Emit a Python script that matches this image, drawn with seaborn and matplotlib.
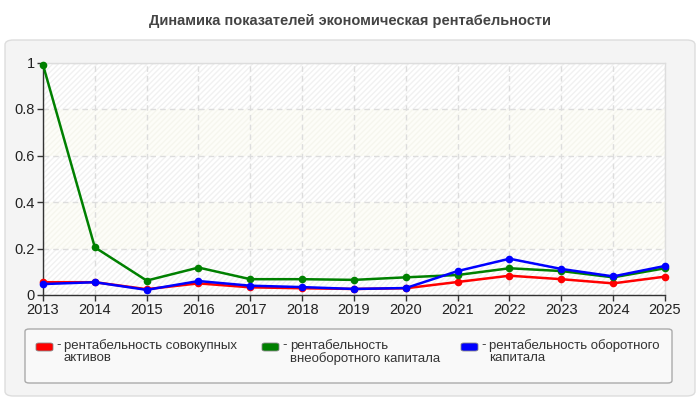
import numpy as np
import pandas as pd
import matplotlib
matplotlib.use("Agg")
import matplotlib.pyplot as plt
from matplotlib.patches import FancyBboxPatch
import seaborn as sns

# data
years = list(range(2013, 2026))
total_assets = [0.055, 0.055, 0.025, 0.050, 0.033, 0.029, 0.026, 0.029, 0.056, 0.083, 0.068, 0.050, 0.079]
fixed_capital = [0.990, 0.205, 0.062, 0.118, 0.068, 0.068, 0.065, 0.076, 0.086, 0.115, 0.103, 0.076, 0.115]
working_capital = [0.047, 0.055, 0.022, 0.060, 0.040, 0.034, 0.026, 0.030, 0.103, 0.156, 0.112, 0.080, 0.125]

series_names = ["рентабельность совокупных\nактивов",
                "рентабельность\nвнеоборотного капитала",
                "рентабельность оборотного\nкапитала"]
series_colors = ["#ff0000", "#008000", "#0000ff"]
yticks = [0, 0.2, 0.4, 0.6, 0.8, 1]
ytick_labels = ["0", "0.2", "0.4", "0.6", "0.8", "1"]
title = "Динамика показателей экономическая рентабельности"

df = pd.DataFrame({
    "year": years * 3,
    "value": total_assets + fixed_capital + working_capital,
    "series": [series_names[0]] * 13 + [series_names[1]] * 13 + [series_names[2]] * 13,
})

sns.set_style("white")
plt.rcParams["font.family"] = ["Liberation Sans", "DejaVu Sans"]

W, H = 700, 400
fig = plt.figure(figsize=(7, 4), dpi=100)
fig.patch.set_facecolor("white")

# outer panel
fig.patches.append(FancyBboxPatch((5 / W, 4 / H), 690 / W, 356 / H,
                                  boxstyle="round,pad=0,rounding_size=0.012",
                                  transform=fig.transFigure, facecolor="#f4f4f4",
                                  edgecolor="#dddddd", lw=1, zorder=-5))

fig.text(0.5, 1 - 21 / H, title, ha="center", va="center", fontsize=10.5,
         fontweight="bold", color="#444444")

ax = fig.add_axes([43 / W, 1 - 295 / H, (665 - 43) / W, (295 - 62.5) / H])
ax.set_zorder(2)
ax.set_facecolor("white")

# striped background bands
for i in range(5):
    lo, hi = i * 0.2, (i + 1) * 0.2
    if i % 2 == 0:
        ax.axhspan(lo, hi, facecolor="white", edgecolor="#f1f1f1", hatch="//////", lw=0, zorder=0)
    else:
        ax.axhspan(lo, hi, facecolor="#fdfdf8", edgecolor="#f6f6ee", hatch="//////", lw=0, zorder=0)

sns.lineplot(data=df, x="year", y="value", hue="series", palette=series_colors,
             marker="o", markersize=5.5, markeredgewidth=0, linewidth=1.8,
             legend=False, ax=ax, zorder=3)

ax.set_xlim(2013, 2025)
ax.set_ylim(0, 1)
ax.set_xticks(years)
ax.set_xticklabels([str(y) for y in years], fontsize=10.5, color="#222222")
ax.set_yticks(yticks)
ax.set_yticklabels(ytick_labels, fontsize=10.5, color="#222222")
ax.set_xlabel("")
ax.set_ylabel("")
ax.grid(True, color="#dddddd", linestyle=(0, (4, 3)), lw=1, zorder=1)
ax.set_axisbelow(True)
ax.tick_params(axis="both", length=4, width=1, color="#333333", pad=2, bottom=True, left=True)
for s in ["left", "bottom"]:
    ax.spines[s].set_color("#333333")
    ax.spines[s].set_linewidth(1)
for s in ["top", "right"]:
    ax.spines[s].set_color("#dddddd")
    ax.spines[s].set_linewidth(1)
for ln in ax.lines:
    ln.set_clip_on(False)

# legend box
fig.patches.append(FancyBboxPatch((25 / W, 1 - 383 / H), 647 / W, 54 / H,
                                  boxstyle="round,pad=0,rounding_size=0.006",
                                  transform=fig.transFigure, facecolor="#f9f9f9",
                                  edgecolor="#aaaaaa", lw=1, zorder=1))
leg_x = [36, 262, 461]
for x0, name, col in zip(leg_x, series_names, series_colors):
    fig.patches.append(FancyBboxPatch((x0 / W, 1 - 351 / H), 17 / W, 8 / H,
                                      boxstyle="round,pad=0,rounding_size=0.004",
                                      transform=fig.transFigure, facecolor=col,
                                      edgecolor="#888888", lw=0.6, zorder=2))
    fig.text((x0 + 20) / W, 1 - 339 / H, "-", ha="left", va="top",
             fontsize=9.5, color="#333333", zorder=3)
    fig.text((x0 + 28) / W, 1 - 339 / H, name, ha="left", va="top",
             fontsize=9.5, color="#333333", linespacing=1.0, zorder=3)

fig.savefig("out.png", dpi=100, facecolor=fig.get_facecolor())
